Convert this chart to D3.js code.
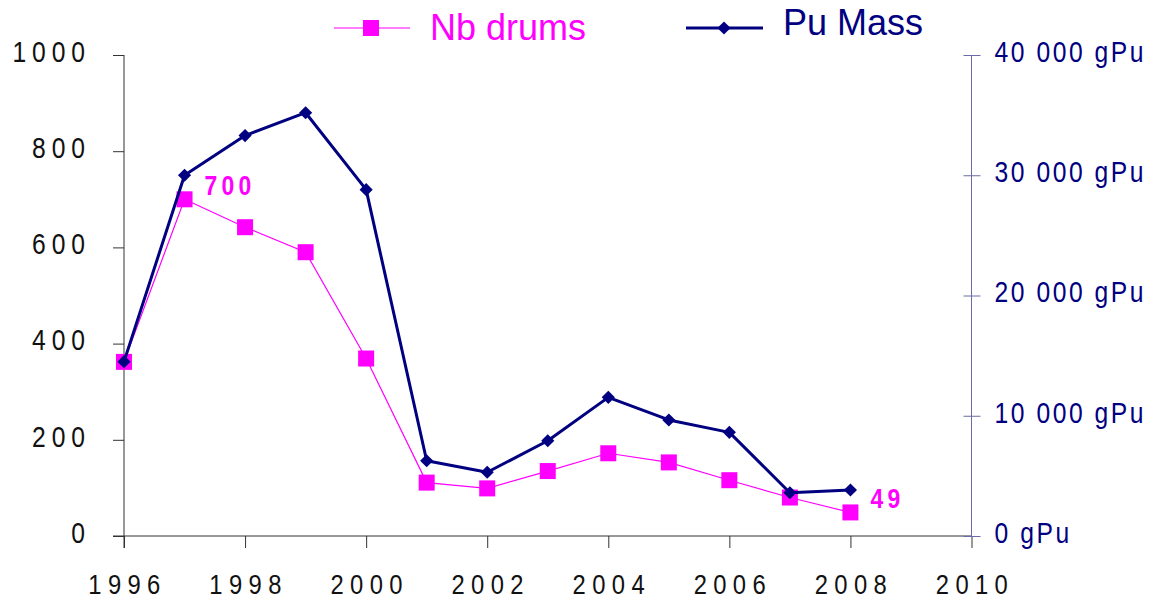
<!DOCTYPE html>
<html>
<head>
<meta charset="utf-8">
<script src="https://cdn.jsdelivr.net/npm/d3@7"></script>
<style>
  body { margin: 0; background: #fff; }
  svg { display: block; font-family: "Liberation Sans", Arial, sans-serif; }
</style>
</head>
<body>
<div id="chart"></div>
<script>
// data
const years = [1996, 1997, 1998, 1999, 2000, 2001, 2002, 2003, 2004, 2005, 2006, 2007, 2008];
const nbDrums = [362, 700, 642, 590, 369, 111, 99, 135, 172, 153, 116, 80, 49];
const puMass = [14500, 30000, 33300, 35200, 28800, 6260, 5300, 7920, 11530, 9650, 8620, 3600, 3830];
const xTicks = [1996, 1998, 2000, 2002, 2004, 2006, 2008, 2010];
const leftTicks = [0, 200, 400, 600, 800, 1000];
const rightTicks = [0, 10000, 20000, 30000, 40000];
const labelled = [{ year: 1997, value: 700 }, { year: 2008, value: 49 }];

const width = 1149, height = 602;
const pink = "#ff00ff", navy = "#000080";
const sx = 0.85; // slightly narrow glyphs like the original

const svg = d3.select("#chart").append("svg")
  .attr("width", width)
  .attr("height", height);

// squeeze text horizontally, keeping its x anchor in place
function squeeze(sel, xPos) {
  sel.attr("transform", `scale(${sx},1)`).attr("x", xPos / sx);
}

// scales
const x = d3.scaleLinear().domain([1996, 2010]).range([124, 971.5]);
const yL = d3.scaleLinear().domain([0, 1000]).range([536, 55]);
const yR = d3.scaleLinear().domain([0, 40000]).range([536, 55]);

// x axis
const gx = svg.append("g")
  .attr("transform", "translate(0,536)")
  .call(d3.axisBottom(x).tickValues(xTicks).tickFormat(d3.format("d")).tickSize(12).tickSizeOuter(0));
gx.select(".domain").attr("d", "M113,0H971.5").attr("stroke", "#333");
gx.selectAll(".tick line").attr("stroke", "#333");
gx.selectAll(".tick text")
  .attr("y", 49)
  .attr("dy", "0.32em")
  .attr("fill", "#111")
  .style("font-size", "28px")
  .style("letter-spacing", "7.5px")
  .call(squeeze, 3);

// left axis
const gl = svg.append("g")
  .attr("transform", "translate(124,0)")
  .call(d3.axisLeft(yL).tickValues(leftTicks).tickFormat(d3.format("d")).tickSize(11).tickSizeOuter(0));
gl.select(".domain").attr("d", "M0,55V548").attr("stroke", "#333");
gl.selectAll(".tick line").attr("stroke", "#333");
gl.selectAll(".tick text")
  .attr("dy", "0.22em")
  .attr("fill", "#111")
  .style("font-size", "29px")
  .style("letter-spacing", "7px")
  .call(squeeze, -33);

// right axis
const gr = svg.append("g")
  .attr("transform", "translate(971.5,0)")
  .call(d3.axisRight(yR).tickValues(rightTicks).tickSize(9)
    .tickFormat(d => d3.format(",")(d).replace(/,/g, " ") + " gPu").tickSizeOuter(0));
gr.select(".domain").attr("d", "M0,55V536").attr("stroke", "#6a6aa8");
gr.selectAll(".tick line").attr("x1", -8).attr("stroke", "#6a6aa8");
gr.selectAll(".tick text")
  .attr("dy", "0.22em")
  .attr("fill", navy)
  .style("font-size", "29px")
  .style("letter-spacing", "3px")
  .call(squeeze, 23);

// lines
const lineL = d3.line().x((d, i) => x(years[i])).y(d => yL(d));
const lineR = d3.line().x((d, i) => x(years[i])).y(d => yR(d));

svg.append("path")
  .datum(nbDrums)
  .attr("d", lineL)
  .attr("fill", "none")
  .attr("stroke", pink)
  .attr("stroke-width", 1.2);

svg.selectAll(".sq")
  .data(nbDrums)
  .enter().append("rect")
  .attr("class", "sq")
  .attr("x", (d, i) => x(years[i]) - 8)
  .attr("y", d => yL(d) - 8)
  .attr("width", 16)
  .attr("height", 16)
  .attr("fill", pink);

svg.append("path")
  .datum(puMass)
  .attr("d", lineR)
  .attr("fill", "none")
  .attr("stroke", navy)
  .attr("stroke-width", 3)
  .attr("stroke-linejoin", "round");

const diamond = d3.symbol().type(d3.symbolDiamond2).size(110);
svg.selectAll(".dm")
  .data(puMass)
  .enter().append("path")
  .attr("class", "dm")
  .attr("transform", (d, i) => `translate(${x(years[i])},${yR(d)})`)
  .attr("d", diamond)
  .attr("fill", navy);

// value labels
svg.selectAll(".vl")
  .data(labelled)
  .enter().append("text")
  .attr("class", "vl")
  .attr("y", d => yL(d.value) - 4)
  .attr("fill", pink)
  .style("font-size", "27px")
  .style("font-weight", "bold")
  .style("letter-spacing", "5px")
  .each(function(d) {
    d3.select(this).call(squeeze, x(d.year) + 20);
  })
  .text(d => d.value);

// legend
const leg = svg.append("g");
leg.append("line").attr("x1", 334).attr("x2", 410).attr("y1", 28).attr("y2", 28)
  .attr("stroke", pink).attr("stroke-width", 1.2);
leg.append("rect").attr("x", 363).attr("y", 20).attr("width", 16).attr("height", 16).attr("fill", pink);
leg.append("text").attr("x", 430).attr("y", 40).attr("fill", pink)
  .style("font-size", "36px").text("Nb drums");

leg.append("line").attr("x1", 686).attr("x2", 763).attr("y1", 28).attr("y2", 28)
  .attr("stroke", navy).attr("stroke-width", 3);
leg.append("path").attr("transform", "translate(724,28)").attr("d", diamond).attr("fill", navy);
leg.append("text").attr("x", 783).attr("y", 35).attr("fill", navy)
  .style("font-size", "36px").text("Pu Mass");
</script>
</body>
</html>
